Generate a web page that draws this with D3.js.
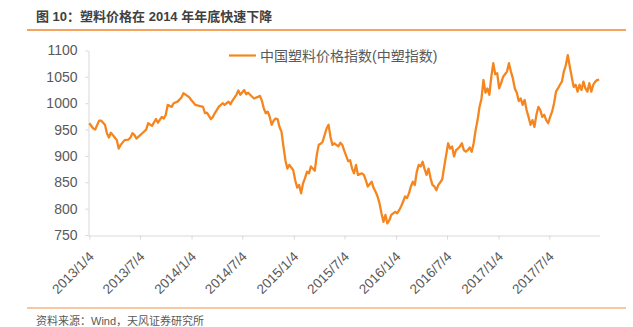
<!DOCTYPE html>
<html><head><meta charset="utf-8">
<script src="https://cdn.jsdelivr.net/npm/d3@7"></script>
<style>
html,body{margin:0;padding:0;background:#fff;}
svg{display:block;}
</style></head>
<body>
<svg id="chart" width="633" height="327"></svg>
<script>
const titleText = "图 10：塑料价格在 2014 年年底快速下降";
const sourceText = "资料来源：Wind，天风证券研究所";
const seriesName = "中国塑料价格指数(中塑指数)";

const dates = [
"2013-01-04","2013-01-18","2013-01-25","2013-02-08","2013-02-15","2013-03-01","2013-03-08","2013-03-15","2013-03-22","2013-04-05",
"2013-04-12","2013-04-19","2013-04-26","2013-05-10","2013-05-24","2013-05-31","2013-06-07","2013-06-14","2013-06-21","2013-06-28",
"2013-07-12","2013-07-26","2013-08-02","2013-08-16","2013-08-30","2013-09-06","2013-09-20","2013-09-27","2013-10-04","2013-10-11",
"2013-10-25","2013-11-01","2013-11-15","2013-11-29","2013-12-06","2013-12-20","2013-12-27","2014-01-03","2014-01-17","2014-01-31",
"2014-02-14","2014-02-21","2014-02-28","2014-03-14","2014-03-21","2014-03-28","2014-04-04","2014-04-11","2014-04-25","2014-05-02",
"2014-05-16","2014-05-23","2014-05-30","2014-06-13","2014-06-20","2014-06-27","2014-07-11","2014-07-18","2014-07-25","2014-08-01",
"2014-08-15","2014-08-29","2014-09-05","2014-09-12","2014-09-19","2014-09-26","2014-10-03","2014-10-10","2014-10-17","2014-10-24",
"2014-10-31","2014-11-07","2014-11-14","2014-11-21","2014-11-28","2014-12-05","2014-12-12","2014-12-19","2014-12-26","2015-01-02",
"2015-01-09","2015-01-16","2015-01-23","2015-01-30","2015-02-06","2015-02-13","2015-02-20","2015-02-27","2015-03-06","2015-03-20",
"2015-03-27","2015-04-03","2015-04-10","2015-04-17","2015-05-01","2015-05-08","2015-05-15","2015-05-22","2015-05-29","2015-06-12",
"2015-06-19","2015-06-26","2015-07-03","2015-07-10","2015-07-17","2015-07-24","2015-07-31","2015-08-07","2015-08-14","2015-08-21",
"2015-09-04","2015-09-11","2015-09-18","2015-09-25","2015-10-09","2015-10-16","2015-10-23","2015-10-30","2015-11-06","2015-11-13",
"2015-11-20","2015-11-27","2015-12-04","2015-12-11","2015-12-18","2016-01-01","2016-01-08","2016-01-15","2016-01-22","2016-01-29",
"2016-02-05","2016-02-12","2016-02-19","2016-02-26","2016-03-04","2016-03-11","2016-03-18","2016-03-25","2016-04-01","2016-04-08",
"2016-04-15","2016-04-22","2016-04-29","2016-05-06","2016-05-13","2016-05-20","2016-05-27","2016-06-03","2016-06-10","2016-06-17",
"2016-06-24","2016-07-01","2016-07-08","2016-07-15","2016-07-22","2016-07-29","2016-08-05","2016-08-12","2016-08-19","2016-08-26",
"2016-09-02","2016-09-09","2016-09-16","2016-09-23","2016-09-30","2016-10-07","2016-10-14","2016-10-21","2016-10-28","2016-11-04",
"2016-11-11","2016-11-18","2016-11-25","2016-12-02","2016-12-09","2016-12-16","2016-12-23","2016-12-30","2017-01-06","2017-01-13",
"2017-01-20","2017-01-27","2017-02-03","2017-02-10","2017-02-17","2017-02-24","2017-03-03","2017-03-10","2017-03-17","2017-03-24",
"2017-03-31","2017-04-07","2017-04-14","2017-04-21","2017-04-28","2017-05-05","2017-05-12","2017-05-19","2017-05-26","2017-06-02",
"2017-06-09","2017-06-16","2017-06-23","2017-06-30","2017-07-07","2017-07-14","2017-07-21","2017-07-28","2017-08-04","2017-08-11",
"2017-08-18","2017-08-25","2017-09-01","2017-09-08","2017-09-15","2017-09-22","2017-09-29","2017-10-06","2017-10-13","2017-10-20",
"2017-10-27","2017-11-03","2017-11-10","2017-11-17","2017-11-24","2017-12-01","2017-12-08","2017-12-15","2017-12-22","2017-12-29"
];

const values = [
962,952,950,967,967,959,943,935,944,935,
930,914,921,930,931,935,943,940,933,936,
943,950,962,957,970,963,974,971,978,997,
993,1000,1003,1011,1019,1014,1011,1006,997,995,
993,981,982,970,974,981,987,993,1000,997,
1003,998,1005,1016,1024,1016,1025,1017,1020,1016,
1009,1012,1014,1005,990,981,984,974,959,967,
971,970,955,946,918,892,876,883,878,873,
854,840,845,829,848,858,870,867,880,872,
902,921,923,927,952,959,936,921,924,918,
925,921,910,900,890,892,876,867,883,864,
867,864,854,842,851,839,832,823,810,791,
775,788,772,778,788,794,791,797,804,813,
823,820,829,842,851,845,870,883,880,889,
875,864,876,858,845,842,835,845,850,856,
880,902,924,914,918,899,911,914,918,924,
911,908,911,916,908,924,949,968,993,1009,
1044,1020,1028,1016,1050,1076,1055,1057,1028,1038,
1050,1055,1060,1076,1060,1047,1028,1020,1004,1009,
997,1006,987,974,959,968,955,978,993,987,
974,978,968,962,974,984,1000,1022,1028,1035,
1041,1060,1072,1091,1070,1050,1031,1035,1022,1035,
1025,1041,1028,1022,1038,1022,1035,1041,1044,1045
];

const xTickDates = ["2013-01-04","2013-07-04","2014-01-04","2014-07-04","2015-01-04","2015-07-04","2016-01-04","2016-07-04","2017-01-04","2017-07-04"];
const xTickLabels = ["2013/1/4","2013/7/4","2014/1/4","2014/7/4","2015/1/4","2015/7/4","2016/1/4","2016/7/4","2017/1/4","2017/7/4"];
const yTicks = [750,800,850,900,950,1000,1050,1100];
const xDomain = ["2013-01-04","2018-01-01"];

const parse = d3.utcParse("%Y-%m-%d");
const data = dates.map((d,i)=>({date:parse(d), value:values[i]}));

const svg = d3.select("#chart");
const LINE = "#f5861f";
const AX = "#d9d9d9";
const TXT = "#595959";
const FONT = "'Liberation Sans', Arial, 'Noto Sans CJK SC', sans-serif";

// title
svg.append("text").attr("x",36).attr("y",21)
  .attr("font-family",FONT).attr("font-size",13).attr("font-weight","bold")
  .attr("fill","#404040").text(titleText);
svg.append("line").attr("x1",27).attr("x2",626).attr("y1",30).attr("y2",30)
  .attr("stroke","#f4a45e").attr("stroke-width",2);

// footer
svg.append("line").attr("x1",27).attr("x2",626).attr("y1",308).attr("y2",308)
  .attr("stroke","#f6c7a0").attr("stroke-width",2);
svg.append("text").attr("x",36).attr("y",325)
  .attr("font-family",FONT).attr("font-size",11)
  .attr("fill",TXT).text(sourceText);

const x = d3.scaleUtc().domain(xDomain.map(parse)).range([89.3,600]);
const y = d3.scaleLinear().domain([750,1100]).range([235,50.5]);

// y axis
const yAxis = svg.append("g").attr("transform","translate(88.5,0)")
  .call(d3.axisLeft(y).tickValues(yTicks).tickFormat(d3.format("d")).tickSize(3).tickPadding(8).tickSizeOuter(0));
yAxis.select(".domain").attr("stroke",AX);
yAxis.selectAll(".tick line").attr("stroke",AX);
yAxis.selectAll("text").attr("font-family",FONT).attr("font-size",14).attr("fill",TXT);

// x axis
const xAxis = svg.append("g").attr("transform","translate(0,235.5)")
  .call(d3.axisBottom(x).tickValues(xTickDates.map(parse)).tickFormat((d,i)=>xTickLabels[i]).tickSize(4).tickSizeOuter(0));
xAxis.select(".domain").attr("stroke",AX).attr("d","M88.5,0.5H600");
xAxis.selectAll(".tick line").attr("stroke",AX);
xAxis.selectAll("text")
  .attr("font-family",FONT).attr("font-size",13.5).attr("fill",TXT)
  .attr("y",null).attr("dy",null).attr("x",null)
  .attr("text-anchor","end")
  .attr("transform","translate(5,22) rotate(-45)");

// line
const line = d3.line().x(d=>x(d.date)).y(d=>y(d.value));
svg.append("path").datum(data).attr("d",line)
  .attr("fill","none").attr("stroke",LINE).attr("stroke-width",2.3)
  .attr("stroke-linejoin","round");

// legend
svg.append("line").attr("x1",229).attr("x2",256).attr("y1",55.5).attr("y2",55.5)
  .attr("stroke",LINE).attr("stroke-width",2.2);
svg.append("text").attr("x",260).attr("y",60.5)
  .attr("font-family",FONT).attr("font-size",14).attr("fill",TXT).text(seriesName);
</script>
</body></html>
